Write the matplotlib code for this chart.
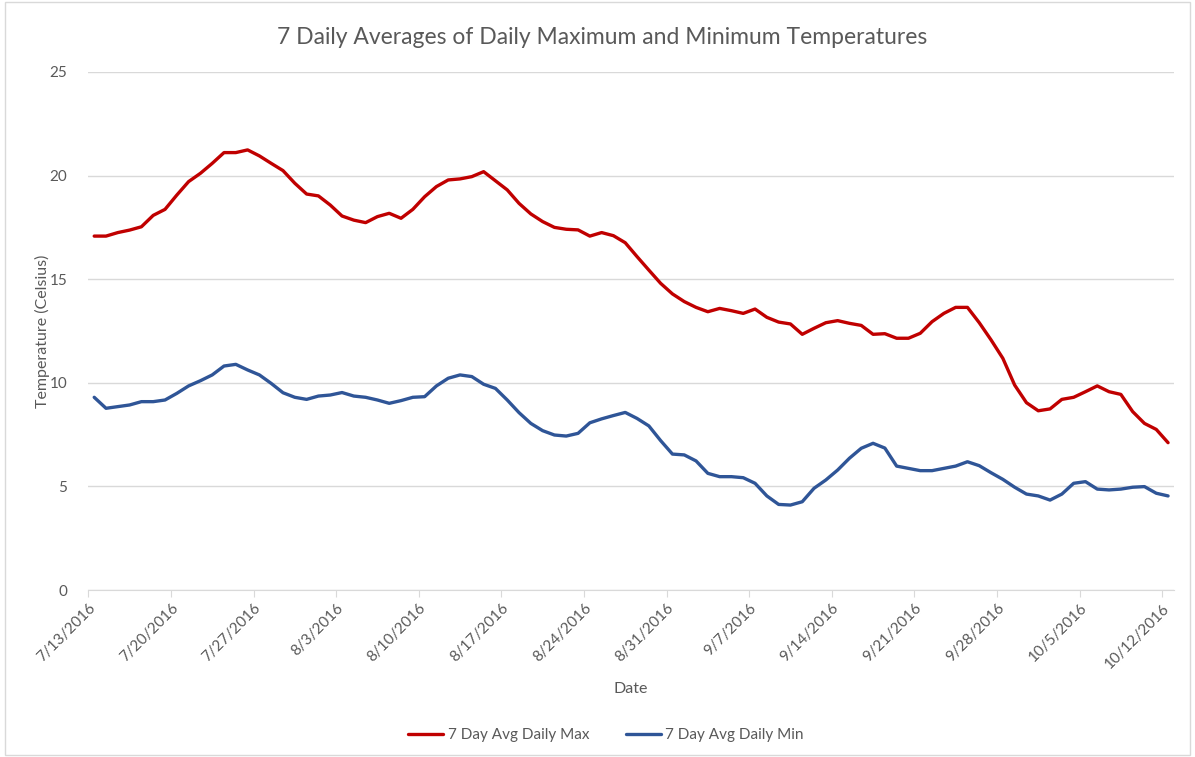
import datetime as dt
import matplotlib
matplotlib.use("Agg")
import matplotlib.pyplot as plt
import numpy as np

start = dt.date(2016, 7, 13)

max_avg = [17.08, 17.08, 17.25, 17.37, 17.53, 18.08, 18.37, 19.06, 19.71, 20.11,
           20.59, 21.11, 21.11, 21.24, 20.95, 20.59, 20.24, 19.63, 19.11, 19.02,
           18.58, 18.05, 17.85, 17.73, 18.02, 18.18, 17.94, 18.37, 18.98, 19.47,
           19.79, 19.84, 19.95, 20.19, 19.75, 19.31, 18.66, 18.15, 17.78, 17.50,
           17.41, 17.38, 17.08, 17.25, 17.10, 16.76, 16.09, 15.44, 14.80, 14.29,
           13.92, 13.64, 13.43, 13.59, 13.48, 13.35, 13.56, 13.16, 12.93, 12.84,
           12.34, 12.63, 12.90, 13.00, 12.87, 12.77, 12.34, 12.37, 12.15, 12.15,
           12.39, 12.95, 13.35, 13.64, 13.64, 12.90, 12.07, 11.18, 9.89, 9.04,
           8.65, 8.74, 9.20, 9.30, 9.57, 9.85, 9.57, 9.44, 8.61, 8.04,
           7.75, 7.11]

min_avg = [9.30, 8.77, 8.85, 8.93, 9.09, 9.09, 9.17, 9.49, 9.85, 10.10,
           10.38, 10.81, 10.89, 10.62, 10.38, 9.97, 9.52, 9.30, 9.20, 9.36,
           9.41, 9.53, 9.36, 9.30, 9.17, 9.01, 9.14, 9.30, 9.33, 9.85,
           10.22, 10.38, 10.30, 9.93, 9.73, 9.17, 8.56, 8.04, 7.69, 7.48,
           7.43, 7.56, 8.07, 8.26, 8.42, 8.57, 8.28, 7.92, 7.21, 6.56,
           6.52, 6.23, 5.63, 5.47, 5.47, 5.42, 5.15, 4.54, 4.13, 4.10,
           4.26, 4.91, 5.31, 5.79, 6.36, 6.84, 7.08, 6.85, 5.98, 5.87,
           5.76, 5.76, 5.87, 5.98, 6.19, 6.00, 5.66, 5.34, 4.96, 4.63,
           4.54, 4.34, 4.63, 5.15, 5.23, 4.87, 4.83, 4.87, 4.96, 4.99,
           4.67, 4.54]

n_days = len(max_avg)
tick_days = list(range(0, n_days, 7))
tick_labels = [(start + dt.timedelta(days=d)).strftime("%-m/%-d/%Y") for d in tick_days]

grey = "#595959"
plt.rcParams["font.family"] = ["Lato", "DejaVu Sans"]

fig = plt.figure(figsize=(11.95, 7.57), dpi=100)
ax = fig.add_axes([0.0739, 0.2206, 0.9085, 0.6843])

# points sit in the middle of each day slot, ticks at the slot start
x = np.arange(n_days) + 0.5
ax.plot(x, max_avg, color="#C00000", lw=2.4, label="7 Day Avg Daily Max",
        solid_joinstyle="round", solid_capstyle="round")
ax.plot(x, min_avg, color="#2F5597", lw=2.4, label="7 Day Avg Daily Min",
        solid_joinstyle="round", solid_capstyle="round")

ax.set_xlim(0, n_days)
ax.set_ylim(0, 25)
ax.set_yticks(range(0, 26, 5))
ax.set_xticks(tick_days)
ax.set_xticklabels(tick_labels, rotation=45, ha="right", rotation_mode="anchor")

ax.grid(axis="y", color="#d9d9d9", lw=1)
ax.set_axisbelow(True)
for side in ["top", "right", "left"]:
    ax.spines[side].set_visible(False)
ax.spines["bottom"].set_color("#d9d9d9")
ax.tick_params(axis="y", length=0, pad=15, labelsize=11, labelcolor=grey)
ax.tick_params(axis="x", length=5, color="#d9d9d9", pad=3, labelsize=11, labelcolor=grey)

fig.text(0.504, 0.951, "7 Daily Averages of Daily Maximum and Minimum Temperatures",
         fontsize=16.5, color=grey, ha="center", va="center")
ax.set_ylabel("Temperature (Celsius)", fontsize=11.5, color=grey, labelpad=0)
ax.set_xlabel("Date", fontsize=11.5, color=grey, labelpad=8)

fig.legend(loc="center", bbox_to_anchor=(0.507, 0.029), ncol=2, frameon=False,
           fontsize=11, labelcolor=grey, handlelength=2.3, handletextpad=0.3,
           columnspacing=2.4)

fig.patches.append(plt.Rectangle((0.004, 0.003), 0.992, 0.994, transform=fig.transFigure,
                                 fill=False, edgecolor="#d9d9d9", lw=1))

fig.savefig("out.png", dpi=100)
